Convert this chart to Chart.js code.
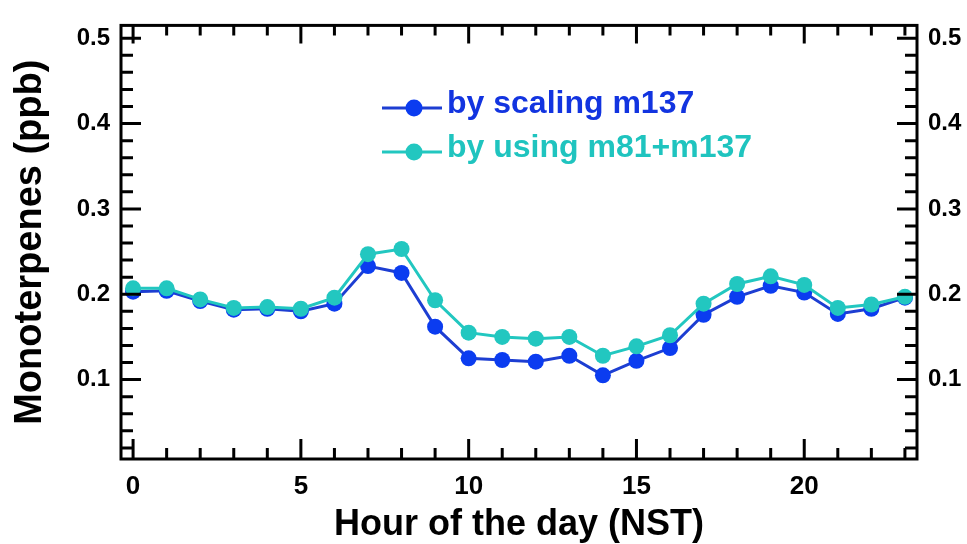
<!DOCTYPE html>
<html><head><meta charset="utf-8">
<script src="https://cdn.jsdelivr.net/npm/chart.js@4.4.0/dist/chart.umd.min.js"></script>
<style>html,body{margin:0;padding:0;background:#fff;overflow:hidden;} #wrap{width:967px;height:544px;}</style>
</head><body><div id="wrap"><canvas id="c" width="967" height="544"></canvas></div>
<script>
const hours = [0,1,2,3,4,5,6,7,8,9,10,11,12,13,14,15,16,17,18,19,20,21,22,23];
const scalingM137 = [0.203,0.204,0.192,0.182,0.183,0.180,0.189,0.233,0.225,0.162,0.125,0.123,0.121,0.128,0.105,0.122,0.137,0.176,0.197,0.210,0.202,0.177,0.183,0.196];
const usingM81M137 = [0.207,0.207,0.194,0.184,0.185,0.183,0.196,0.247,0.253,0.193,0.155,0.150,0.148,0.150,0.128,0.139,0.152,0.189,0.212,0.221,0.211,0.184,0.188,0.197];
const xTickLabels = [0,5,10,15,20];
const yTickLabels = [0.1,0.2,0.3,0.4,0.5];
const seriesNames = ['by scaling m137','by using m81+m137'];

const FONT = "'Liberation Sans', Arial, sans-serif";
const BLUE = '#0b3cf0', BLUE_LINE = '#1d3ed2', BLUE_TEXT = '#1234e0';
const CYAN = '#22c7c0', CYAN_TEXT = '#1fc4bf';

const framePlugin = {
  id: 'frame',
  afterDraw(chart) {
    const {ctx, chartArea: a, scales: {x, y}} = chart;
    ctx.save();
    ctx.strokeStyle = '#000';
    ctx.lineWidth = 3;
    ctx.lineCap = 'butt';
    ctx.beginPath();
    for (let h = 0; h <= 23; h++) {
      const px = x.getPixelForValue(h);
      const L = h % 5 === 0 ? 20 : 11;
      const T = h % 5 === 0 ? 18 : 10;
      ctx.moveTo(px, a.bottom); ctx.lineTo(px, a.bottom - L);
      ctx.moveTo(px, a.top); ctx.lineTo(px, a.top + T);
    }
    for (let k = 1; k <= 25; k++) {
      const py = y.getPixelForValue(k * 0.02);
      const L = k % 5 === 0 ? 20 : 12;
      ctx.moveTo(a.left, py); ctx.lineTo(a.left + L, py);
      ctx.moveTo(a.right, py); ctx.lineTo(a.right - L, py);
    }
    ctx.stroke();
    ctx.strokeRect(a.left, a.top, a.right - a.left, a.bottom - a.top);
    ctx.restore();
  }
};

const legendPlugin = {
  id: 'customLegend',
  afterDraw(chart) {
    const ctx = chart.ctx;
    const items = [
      {text: seriesNames[0], line: BLUE_LINE, dot: BLUE, color: BLUE_TEXT},
      {text: seriesNames[1], line: CYAN, dot: CYAN, color: CYAN_TEXT}
    ];
    ctx.save();
    items.forEach((it, i) => {
      const cy = 108 + i * 44;
      ctx.strokeStyle = it.line; ctx.lineWidth = 3;
      ctx.beginPath(); ctx.moveTo(382, cy); ctx.lineTo(442, cy); ctx.stroke();
      ctx.fillStyle = it.dot;
      ctx.beginPath(); ctx.arc(414, cy, 8.5, 0, Math.PI * 2); ctx.fill();
      ctx.fillStyle = it.color;
      ctx.font = 'bold 32px ' + FONT;
      ctx.textBaseline = 'alphabetic';
      ctx.textAlign = 'left';
      ctx.fillText(it.text, 447, cy + 5);
    });
    ctx.restore();
  }
};

const toPts = arr => hours.map((h, i) => ({x: h, y: arr[i]}));

const yCommon = {
  type: 'linear', min: 0.007, max: 0.515,
  afterBuildTicks: s => { s.ticks = yTickLabels.map(v => ({value: v})); },
  grid: {display: false, drawTicks: false},
  border: {display: false},
  ticks: {font: {family: FONT, size: 24, weight: 'bold'}, color: '#000', padding: 11,
          callback: v => Number(v).toFixed(1)}
};

new Chart(document.getElementById('c'), {
  type: 'line',
  data: {
    datasets: [
      {label: seriesNames[1], data: toPts(usingM81M137), borderColor: CYAN, backgroundColor: CYAN,
       pointBackgroundColor: CYAN, pointBorderColor: CYAN, borderWidth: 3, pointRadius: 8,
       pointBorderWidth: 0, tension: 0, order: 0, yAxisID: 'y'},
      {label: seriesNames[0], data: toPts(scalingM137), borderColor: BLUE_LINE, backgroundColor: BLUE,
       pointBackgroundColor: BLUE, pointBorderColor: BLUE, borderWidth: 3, pointRadius: 8,
       pointBorderWidth: 0, tension: 0, order: 1, yAxisID: 'y'}
    ]
  },
  options: {
    responsive: false, animation: false, devicePixelRatio: 1,
    layout: {padding: {top: 16, left: 0, right: 0, bottom: 0}},
    plugins: {legend: {display: false}, tooltip: {enabled: false}},
    scales: {
      x: {
        type: 'linear', position: 'bottom', min: -0.36, max: 23.36,
        afterBuildTicks: s => { s.ticks = xTickLabels.map(v => ({value: v})); },
        afterFit: s => { s.height = 85; },
        grid: {display: false, drawTicks: false},
        border: {display: false},
        ticks: {font: {family: FONT, size: 26, weight: 'bold'}, color: '#000', padding: 12,
                maxRotation: 0, autoSkip: false, callback: v => String(v)},
        title: {display: true, text: 'Hour of the day (NST)', color: '#000',
                font: {family: FONT, size: 36, weight: 'bold', lineHeight: 1}, padding: {top: 0, bottom: 1}}
      },
      y: Object.assign({}, yCommon, {
        position: 'left',
        afterFit: s => { s.width = 121; },
        title: {display: true, text: 'Monoterpenes (ppb)', color: '#000',
                font: {family: FONT, size: 38, weight: 'bold', lineHeight: 1}, padding: {top: 12, bottom: 0}}
      }),
      y2: Object.assign({}, yCommon, {
        position: 'right',
        afterFit: s => { s.width = 50; }
      })
    }
  },
  plugins: [framePlugin, legendPlugin]
});
</script>
</body></html>
